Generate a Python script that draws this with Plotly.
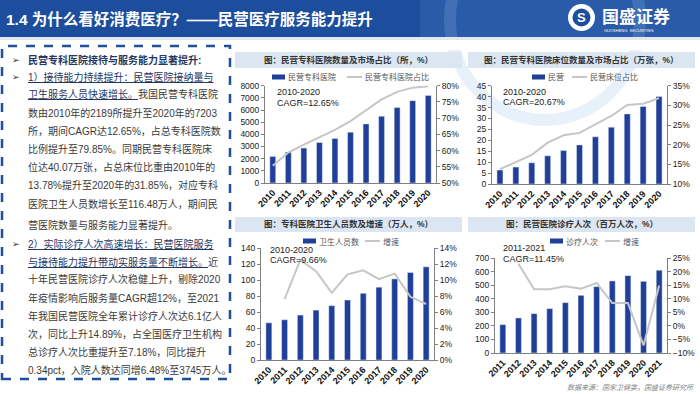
import plotly.graph_objects as go

W, H = 700, 394
def px(x): return x / W
def py(y): return 1 - y / H

years_a = [str(y) for y in range(2010, 2021)]
years_b = [str(y) for y in range(2011, 2022)]

hosp_count = [2189, 2540, 2870, 3330, 3660, 4180, 4860, 5490, 6200, 6770, 7203]
hosp_share = [55.3, 59.4, 61.8, 64.0, 66.4, 69.1, 72.5, 75.8, 78.1, 79.4, 79.85]
beds = [6.4, 7.75, 9.7, 12.9, 15.3, 17.9, 21.6, 26.0, 32.1, 35.5, 40.07]
bed_share = [13.78, 15.6, 17.4, 20.5, 22.4, 23.0, 25.2, 27.3, 30.1, 30.4, 31.85]
staff = [46.5, 50.3, 56.2, 62.4, 67.9, 75.0, 83.4, 91.0, 101.4, 109.4, 116.48]
staff_growth = [None, 7.6, 12.5, 11.1, 8.4, 10.7, 11.2, 10.1, 10.8, 7.9, 7.0]
visits = [209, 258, 290, 327, 371, 425, 489, 531, 570, 528, 610]
visit_growth = [None, 22.9, 13.5, 13.5, 14.6, 13.7, 15.8, 8.4, 8.4, -7.2, 14.89]

BAR = "#1f3f99"
LINE = "#c6c6c6"
CJK = "Noto Sans CJK SC"
LAT = "Liberation Sans"
MIX = "Liberation Sans, Noto Sans CJK SC"

charts = [
    dict(title="图：民营专科医院数量及市场占比（所，%）", cats=years_a, bars=hosp_count, line=hosp_share,
         bname="民营专科医院", lname="民营专科医院占比",
         x=(265, 436), y=(85.7, 183), lr=(0, 8000), ld=1000, rr=(50, 80), rd=5,
         tb=(235, 462, 52, 68), leg=(272, 347, 77), note=(275, 91.7, 102.7, "2010-2020", "CAGR=12.65%")),
    dict(title="图：民营专科医院床位数量及市场占比（万张，%）", cats=years_a, bars=beds, line=bed_share,
         bname="民营", lname="民营床位占比",
         x=(492, 667), y=(85.7, 184), lr=(0, 45), ld=5, rr=(10, 35), rd=5,
         tb=(468, 695, 52, 68), leg=(532, 572, 77), note=(501, 91.7, 101.7, "2010-2020", "CAGR=20.67%")),
    dict(title="图：专科医院卫生人员数及增速（万人，%）", cats=years_a, bars=staff, line=staff_growth,
         bname="卫生人员数", lname="增速",
         x=(261, 434), y=(248, 360), lr=(0, 140), ld=20, rr=(0, 14), rd=2,
         tb=(235, 462, 217, 232), leg=(303, 365, 241), note=(268, 250, 259.5, "2010-2020", "CAGR=9.66%")),
    dict(title="图：民营医院诊疗人次（百万人次，%）", cats=years_b, bars=visits, line=visit_growth,
         bname="诊疗人次", lname="增速",
         x=(495, 667), y=(258, 353), lr=(0, 700), ld=100, rr=(-10, 25), rd=5,
         tb=(468, 695, 217, 232), leg=(550, 605, 241), note=(501, 248.3, 258.5, "2011-2021", "CAGR=11.45%")),
]

fig = go.Figure()
layout = {}
shapes = []
ann = []

def note(text, x, y, xa="left", ya="middle", **font):
    ann.append(dict(text=text, x=px(x), y=py(y), xref="paper", yref="paper", xanchor=xa, yanchor=ya,
                    showarrow=False, align="left", font=font))

# Header bar
shapes.append(dict(type="rect", xref="paper", yref="paper", x0=0, x1=1, y0=py(37), y1=1,
                   fillcolor="#1d4e9d", line_width=0, layer="below"))
shapes.append(dict(type="rect", xref="paper", yref="paper", x0=px(420), x1=1, y0=py(37), y1=1,
                   fillcolor="rgba(90,140,210,0.22)", line_width=0, layer="below"))
shapes.append(dict(type="circle", xref="paper", yref="paper", x0=px(450), x1=px(640), y0=py(120), y1=py(-80),
                   fillcolor="rgba(0,0,0,0)", line=dict(color="rgba(150,185,230,0.22)", width=12), layer="below"))
shapes.append(dict(type="rect", xref="paper", yref="paper", x0=0, x1=1, y0=py(50), y1=py(37),
                   fillcolor="white", line_width=0, layer="below"))
shapes.append(dict(type="rect", xref="paper", yref="paper", x0=0, x1=1, y0=py(40), y1=py(37),
                   fillcolor="#e3e8f0", line_width=0, layer="below"))
note("<b>1.4 为什么看好消费医疗？——民营医疗服务能力提升</b>", 4, 19, family=MIX, size=15.5, color="white")
# Logo
shapes.append(dict(type="circle", xref="paper", yref="paper", x0=px(568), x1=px(595), y0=py(31), y1=py(4),
                   fillcolor="white", line_width=0))
shapes.append(dict(type="circle", xref="paper", yref="paper", x0=px(572.5), x1=px(590.5), y0=py(26.5), y1=py(8.5),
                   fillcolor="#1d4e9d", line_width=0))
note("<b>S</b>", 581.5, 17.5, xa="center", family=LAT, size=13, color="white")
note("<b>国盛证券</b>", 600, 15, family=CJK, size=17, color="white")
note("GUOSHENG  SECURITIES", 602, 30, family=LAT, size=4, color="white")

# Left dashed box
shapes.append(dict(type="rect", xref="paper", yref="paper", x0=px(2), x1=px(230), y0=py(379), y1=py(46),
                   fillcolor="rgba(0,0,0,0)", line=dict(color="#1f4e9a", width=2.5, dash="dash")))

NAVY = "#1f3864"
BODY = "#3a3a3a"
lines = [
    (60, "<b>民营专科医院接待与服务能力显著提升:</b>", NAVY, True),
    (77, "<u>1）接待能力持续提升：民营医院接纳量与</u>", NAVY, True),
    (94.5, "<span style='color:#1f3864'><u>卫生服务人员快速增长。</u></span>我国民营专科医院", BODY, False),
    (112.7, "数由2010年的2189所提升至2020年的7203", BODY, False),
    (130.8, "所，期间CAGR达12.65%，占总专科医院数", BODY, False),
    (149, "比例提升至79.85%。同期民营专科医院床", BODY, False),
    (167, "位达40.07万张，占总床位比重由2010年的", BODY, False),
    (185, "13.78%提升至2020年的31.85%，对应专科", BODY, False),
    (203.5, "医院卫生人员数增长至116.48万人，期间民", BODY, False),
    (225, "营医院数量与服务能力显著提升。", BODY, False),
    (244, "<u>2）实际诊疗人次高速增长：民营医院服务</u>", NAVY, True),
    (261.7, "<span style='color:#1f3864'><u>与接待能力提升带动实服务量不断增长。</u></span>近", BODY, False),
    (279, "十年民营医院诊疗人次稳健上升，剔除2020", BODY, False),
    (297.5, "年疫情影响后服务量CAGR超12%，至2021", BODY, False),
    (315.7, "年我国民营医院全年累计诊疗人次达6.1亿人", BODY, False),
    (334, "次，同比上升14.89%，占全国医疗卫生机构", BODY, False),
    (351.7, "总诊疗人次比重提升至7.18%，同比提升", BODY, False),
    (370, "0.34pct，入院人数达同增6.48%至3745万人。", BODY, False),
]
for y, t, c, bullet in lines:
    note(t, 26, y, family=MIX, size=10, color=c)
    if bullet:
        note("➢", 10, y, family="DejaVu Sans", size=9, color="#333333")

# Charts
for k, c in enumerate(charts, start=1):
    xn = "x" if k == 1 else f"x{k}"
    yl = 2 * k - 1
    yr = 2 * k
    yln = "y" if yl == 1 else f"y{yl}"
    yrn = f"y{yr}"
    fig.add_trace(go.Bar(x=c["cats"], y=c["bars"], name=c["bname"], marker_color=BAR,
                         xaxis=xn, yaxis=yln, showlegend=False))
    fig.add_trace(go.Scatter(x=c["cats"], y=c["line"], name=c["lname"], mode="lines",
                             line=dict(color=LINE, width=2), xaxis=xn, yaxis=yrn, showlegend=False,
                             connectgaps=False))
    xd = [px(c["x"][0]), px(c["x"][1])]
    yd = [py(c["y"][1]), py(c["y"][0])]
    tickf = dict(family=LAT, size=8.5, color="#222222")
    layout["xaxis" if k == 1 else f"xaxis{k}"] = dict(
        domain=xd, anchor=yln, type="category", tickangle=-45, automargin=False,
        tickfont=dict(family=LAT, size=9, color="#111111", weight="bold"),
        showline=True, linecolor="#808080", linewidth=1, ticks="", showgrid=False)
    layout["yaxis" if yl == 1 else f"yaxis{yl}"] = dict(
        domain=yd, anchor=xn, range=list(c["lr"]), dtick=c["ld"], tick0=0, showgrid=False, automargin=False,
        showline=True, linecolor="#808080", linewidth=1, ticks="outside", ticklen=3, tickcolor="#808080",
        tickfont=tickf, zeroline=False)
    layout[f"yaxis{yr}"] = dict(
        domain=yd, anchor=xn, overlaying=yln, side="right", range=list(c["rr"]), dtick=c["rd"],
        tick0=c["rr"][0], ticksuffix="%", showgrid=False, showline=True, linecolor="#808080", automargin=False,
        linewidth=1, ticks="outside", ticklen=3, tickcolor="#808080", tickfont=tickf, zeroline=False)
    # title bar
    x0, x1, y0, y1 = c["tb"]
    shapes.append(dict(type="rect", xref="paper", yref="paper", x0=px(x0), x1=px(x1), y0=py(y1), y1=py(y0),
                       fillcolor="#dce6f2", line_width=0, layer="below"))
    note("<b>" + c["title"] + "</b>", (x0 + x1) / 2, (y0 + y1) / 2, xa="center",
         family=MIX, size=8.5, color="#333333")
    # legend
    bx, lx, ly = c["leg"]
    shapes.append(dict(type="rect", xref="paper", yref="paper", x0=px(bx), x1=px(bx + 13), y0=py(ly + 2.5),
                       y1=py(ly - 2.5), fillcolor=BAR, line_width=0))
    note(c["bname"], bx + 14, ly, family=CJK, size=8, color="#555555")
    shapes.append(dict(type="line", xref="paper", yref="paper", x0=px(lx), x1=px(lx + 15), y0=py(ly), y1=py(ly),
                       line=dict(color=LINE, width=2)))
    note(c["lname"], lx + 16, ly, family=CJK, size=8, color="#555555")
    # CAGR note
    nx, ny1, ny2, l1, l2 = c["note"]
    note(l1, nx, ny1, family=LAT, size=9, color="#222222")
    note(l2, nx, ny2, family=LAT, size=9, color="#222222")

# Footer
note("<i>数据来源：国家卫健委，国盛证券研究所</i>", 696, 387, xa="right", family=CJK, size=7, color="#7f7f7f")

fig.update_layout(width=W, height=H, margin=dict(l=0, r=0, t=0, b=0, autoexpand=False), paper_bgcolor="white",
                  plot_bgcolor="rgba(0,0,0,0)", bargap=0.62, shapes=shapes, annotations=ann, showlegend=False,
                  **layout)
fig.write_html("out.html", config={"displayModeBar": False},
               post_script="document.body.style.margin='0';document.body.style.overflow='hidden';")
